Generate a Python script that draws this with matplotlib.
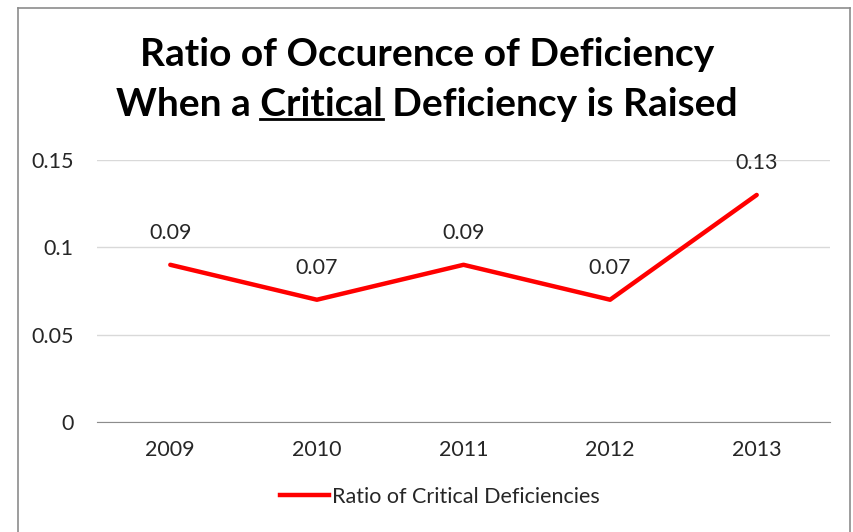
import matplotlib.pyplot as plt
from matplotlib.lines import Line2D

years = ['2009', '2010', '2011', '2012', '2013']
ratios = [0.09, 0.07, 0.09, 0.07, 0.13]
y_ticks = [0, 0.05, 0.1, 0.15]
y_tick_labels = ['0', '0.05', '0.1', '0.15']

plt.rcParams['font.family'] = ['Lato', 'DejaVu Sans']

fig = plt.figure(figsize=(8.54, 5.32), dpi=100)
W, H = 854, 532

# outer chart border (left, top, right)
fig.add_artist(Line2D([18 / W, 18 / W], [0, 1 - 8 / H], color='#8c8c8c', lw=1.2))
fig.add_artist(Line2D([18 / W, 850 / W], [1 - 8 / H, 1 - 8 / H], color='#8c8c8c', lw=1.2))
fig.add_artist(Line2D([850 / W, 850 / W], [0, 1 - 8 / H], color='#8c8c8c', lw=1.2))

ax = fig.add_axes([97 / W, 1 - 422 / H, (830 - 97) / W, (422 - 160) / H])
x = list(range(len(years)))
ax.plot(x, ratios, color='#ff0000', lw=3.2, solid_capstyle='round')
for xi, v in zip(x, ratios):
    ax.annotate(f'{v:.2f}', (xi, v), xytext=(0, 23), textcoords='offset points',
                ha='center', va='center', fontsize=15.5, color='#262626')

ax.set_xlim(-0.5, len(years) - 0.5)
ax.set_ylim(0, 0.15)
ax.set_xticks(x)
ax.set_xticklabels(years)
ax.set_yticks(y_ticks)
ax.set_yticklabels(y_tick_labels)
ax.tick_params(length=0, labelsize=15.5, labelcolor='#262626')
ax.tick_params(axis='x', pad=13)
ax.tick_params(axis='y', pad=17)
ax.grid(axis='y', color='#d9d9d9', lw=1)
ax.set_axisbelow(True)
for s in ['left', 'right', 'top']:
    ax.spines[s].set_visible(False)
ax.spines['bottom'].set_color('#8c8c8c')

# title, second line has "Critical" underlined
title_kw = dict(fontsize=28, fontweight='bold', color='black')
fig.text(0.5, 1 - 55 / H, 'Ratio of Occurence of Deficiency', ha='center', va='center', **title_kw)
line2 = 'When a Critical Deficiency is Raised'
t2 = fig.text(0.5, 1 - 104 / H, line2, ha='center', va='center', **title_kw)

renderer = fig.canvas.get_renderer()
full = t2.get_window_extent(renderer)
tmp = fig.text(0, 0, 'When a ', **title_kw)
w_pre = tmp.get_window_extent(renderer).width
tmp.set_text('When a Critical')
w_crit = tmp.get_window_extent(renderer).width
tmp.remove()
x0 = (full.x0 + w_pre) / W
x1 = (full.x0 + w_crit) / W
uy = (full.y0 + 3) / H
fig.add_artist(Line2D([x0, x1], [uy, uy], color='black', lw=2))

leg = fig.legend([Line2D([], [], color='#ff0000', lw=3.2)], ['Ratio of Critical Deficiencies'],
                 loc='center', bbox_to_anchor=(440 / W, 1 - 497 / H), frameon=False,
                 fontsize=15.5, handlelength=2.3, handletextpad=0.15)
for t in leg.get_texts():
    t.set_color('#262626')

fig.savefig('out.png', dpi=100)
